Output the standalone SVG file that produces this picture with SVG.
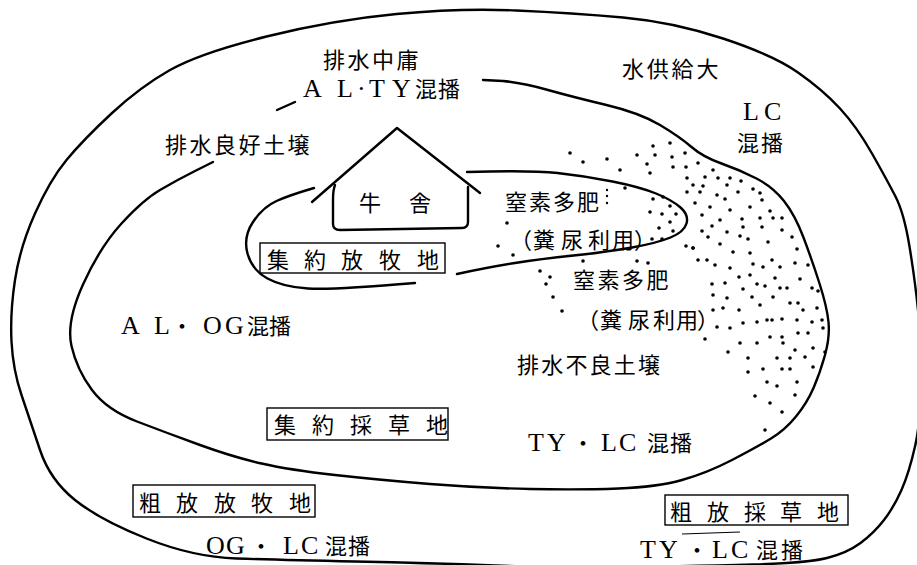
<svg xmlns="http://www.w3.org/2000/svg" width="917" height="565" viewBox="0 0 917 565">
<style>
.ln{fill:none;stroke:#000;stroke-width:2.4;stroke-linecap:round;stroke-linejoin:round}
.thin{fill:none;stroke:#000;stroke-width:1.1}
.box{fill:none;stroke:#000;stroke-width:1.4}
.jp{font-family:"Noto Sans CJK JP","Noto Sans CJK SC",sans-serif;font-size:22px;fill:#000}
.lat{font-family:"Liberation Serif","Noto Sans CJK JP",serif;font-size:26px;fill:#000}
.dots circle{fill:#000}
</style>
<rect width="917" height="565" fill="#fff"/>
<g id="connectors">
<path id="outer" class="ln" d="M 11.5,341.5 Q 10,313 15,280 Q 20,247 35,213.5 Q 50,180 66.5,160 Q 83,140 111.5,113.5 Q 140,87 170,70 Q 200,53 266.5,36.5 Q 333,20 396.5,14 Q 460,8 516.5,10.5 Q 573,13 623,17.5 Q 673,22 723,38.5 Q 773,55 798,72.5 Q 823,90 840,108.5 Q 857,127 872,153.5 Q 887,180 895.5,196.5 Q 904,213 909.5,246.5 Q 915,280 918,310 Q 921,340 921,380 Q 921,420 915,446.5 Q 909,473 901.5,490 Q 894,507 884,520 Q 874,533 860.5,543 Q 847,553 827,558 Q 807,563 753.5,564.5 Q 700,566 630,567 Q 560,568 495,565.5 Q 430,563 355,561.5 Q 280,560 236.5,558.5 Q 193,557 146.5,538.5 Q 100,520 75,500 Q 50,480 40,450 Q 30,420 21.5,395 Q 13,370 11.5,341.5 Z"/>
<path id="middle" class="ln" d="M 483,80 L 503,81 Q 523,83 548,90 Q 573,97 606.5,105 Q 640,113 660,125 Q 680,137 691.5,147 Q 703,157 721.5,163.5 Q 740,170 756.5,178.5 Q 773,187 784,201 Q 795,215 803.5,237.5 Q 812,260 819.5,283.5 Q 827,307 828.5,322 Q 830,337 825,355 Q 820,373 813.5,388 Q 807,403 796,416.5 Q 785,430 771,438.5 Q 757,447 732,460 Q 707,473 682,480 Q 657,487 618.5,488.5 Q 580,490 530,489 Q 480,488 430,484 Q 380,480 335,475 Q 290,470 261.5,463.5 Q 233,457 200,445 Q 167,433 137,421.5 Q 107,410 92,390 Q 77,370 71.5,346 Q 66,322 83,284.5 Q 100,247 121.5,223.5 Q 143,200 160,190 Q 177,180 195,171 L 213,162"/>
<path id="middle-dash" class="ln" d="M 277,110 L 295,102"/>
<path id="inner-a" class="ln" d="M 467,172 Q 530,170 557.5,173 Q 585,176 612.5,181.5 Q 640,187 656,193.5 Q 672,200 680.5,207.5 Q 689,215 686.5,223.5 Q 684,232 670.5,237.5 Q 657,243 632,247.5 Q 607,252 573.5,255.5 Q 540,259 515,263 Q 490,267 457,274"/>
<path id="inner-b" class="ln" d="M 415,283 Q 333,290 308,288.5 Q 283,287 267.5,278.5 Q 252,270 247.5,253.5 Q 243,237 253,222 Q 263,207 276.5,201 Q 290,195 314,188"/>
<path id="short-line" class="thin" d="M 682,534 L 740,532"/>
</g>
<g id="barn">
<path class="ln" d="M 312,202 L 397,128 L 480,193"/>
<path class="ln" d="M 335,185 Q 333,190 333,200 L 333,224 Q 333,230 340,230 L 462,228 Q 468,228 468,222 L 468,187"/>
<text class="jp" font-size="21" x="359" y="211">牛<tspan x="409">舎</tspan></text>
</g>
<g id="dots" class="dots">
<circle cx="685" cy="153" r="1.8"/><circle cx="698" cy="163" r="1.8"/><circle cx="713" cy="170" r="1.8"/><circle cx="687" cy="178" r="1.8"/><circle cx="705" cy="177" r="1.8"/><circle cx="718" cy="178" r="1.8"/><circle cx="730" cy="178" r="1.8"/><circle cx="741" cy="181" r="1.8"/><circle cx="693" cy="185" r="1.8"/><circle cx="727" cy="185" r="1.8"/>
<circle cx="687" cy="192" r="1.8"/><circle cx="700" cy="192" r="1.8"/><circle cx="717" cy="195" r="1.8"/><circle cx="738" cy="192" r="1.8"/><circle cx="753" cy="189" r="1.8"/><circle cx="695" cy="203" r="1.8"/><circle cx="710" cy="207" r="1.8"/><circle cx="725" cy="199" r="1.8"/><circle cx="762" cy="200" r="1.8"/><circle cx="750" cy="207" r="1.8"/><circle cx="730" cy="210" r="1.8"/>
<circle cx="702" cy="215" r="1.8"/><circle cx="720" cy="220" r="1.8"/><circle cx="742" cy="219" r="1.8"/><circle cx="760" cy="218" r="1.8"/><circle cx="773" cy="218" r="1.8"/><circle cx="782" cy="218" r="1.8"/><circle cx="770" cy="211" r="1.8"/><circle cx="712" cy="226" r="1.8"/><circle cx="743" cy="227" r="1.8"/><circle cx="762" cy="227" r="1.8"/>
<circle cx="702" cy="231" r="1.8"/><circle cx="727" cy="232" r="1.8"/><circle cx="708" cy="237" r="1.8"/><circle cx="740" cy="236" r="1.8"/><circle cx="748" cy="239" r="1.8"/><circle cx="768" cy="242" r="1.8"/><circle cx="782" cy="230" r="1.8"/><circle cx="792" cy="237" r="1.8"/><circle cx="720" cy="244" r="1.8"/><circle cx="693" cy="248" r="1.8"/>
<circle cx="698" cy="260" r="1.8"/><circle cx="707" cy="260" r="1.8"/><circle cx="715" cy="265" r="1.8"/><circle cx="733" cy="252" r="1.8"/><circle cx="750" cy="253" r="1.8"/><circle cx="763" cy="267" r="1.8"/><circle cx="780" cy="267" r="1.8"/><circle cx="797" cy="249" r="1.8"/><circle cx="795" cy="263" r="1.8"/><circle cx="808" cy="265" r="1.8"/><circle cx="730" cy="268" r="1.8"/><circle cx="753" cy="264" r="1.8"/><circle cx="772" cy="260" r="1.8"/>
<circle cx="712" cy="284" r="1.8"/><circle cx="725" cy="283" r="1.8"/><circle cx="739" cy="277" r="1.8"/><circle cx="750" cy="275" r="1.8"/><circle cx="757" cy="284" r="1.8"/><circle cx="765" cy="286" r="1.8"/><circle cx="780" cy="288" r="1.8"/><circle cx="787" cy="288" r="1.8"/><circle cx="775" cy="278" r="1.8"/><circle cx="800" cy="279" r="1.8"/><circle cx="812" cy="288" r="1.8"/><circle cx="818" cy="291" r="1.8"/>
<circle cx="713" cy="295" r="1.8"/><circle cx="727" cy="298" r="1.8"/><circle cx="743" cy="289" r="1.8"/><circle cx="752" cy="297" r="1.8"/><circle cx="760" cy="305" r="1.8"/><circle cx="773" cy="297" r="1.8"/><circle cx="790" cy="303" r="1.8"/><circle cx="798" cy="303" r="1.8"/><circle cx="803" cy="310" r="1.8"/><circle cx="817" cy="308" r="1.8"/><circle cx="713" cy="310" r="1.8"/><circle cx="723" cy="308" r="1.8"/><circle cx="739" cy="310" r="1.8"/>
<circle cx="757" cy="322" r="1.8"/><circle cx="767" cy="320" r="1.8"/><circle cx="782" cy="319" r="1.8"/><circle cx="797" cy="320" r="1.8"/><circle cx="812" cy="322" r="1.8"/><circle cx="822" cy="320" r="1.8"/><circle cx="717" cy="327" r="1.8"/><circle cx="730" cy="328" r="1.8"/><circle cx="743" cy="323" r="1.8"/><circle cx="772" cy="320" r="1.8"/>
<circle cx="705" cy="339" r="1.8"/><circle cx="740" cy="343" r="1.8"/><circle cx="757" cy="343" r="1.8"/><circle cx="770" cy="337" r="1.8"/><circle cx="782" cy="337" r="1.8"/><circle cx="783" cy="343" r="1.8"/><circle cx="798" cy="333" r="1.8"/><circle cx="808" cy="333" r="1.8"/><circle cx="795" cy="350" r="1.8"/><circle cx="813" cy="348" r="1.8"/><circle cx="823" cy="328" r="1.8"/><circle cx="825" cy="352" r="1.8"/><circle cx="728" cy="352" r="1.8"/>
<circle cx="748" cy="358" r="1.8"/><circle cx="777" cy="358" r="1.8"/><circle cx="790" cy="358" r="1.8"/><circle cx="805" cy="357" r="1.8"/><circle cx="763" cy="369" r="1.8"/><circle cx="782" cy="369" r="1.8"/><circle cx="790" cy="369" r="1.8"/><circle cx="813" cy="367" r="1.8"/><circle cx="748" cy="372" r="1.8"/>
<circle cx="767" cy="382" r="1.8"/><circle cx="777" cy="386" r="1.8"/><circle cx="797" cy="382" r="1.8"/><circle cx="755" cy="396" r="1.8"/><circle cx="795" cy="395" r="1.8"/><circle cx="770" cy="403" r="1.8"/><circle cx="782" cy="412" r="1.8"/><circle cx="765" cy="430" r="1.8"/>
<circle cx="570" cy="153" r="1.8"/><circle cx="583" cy="162" r="1.8"/><circle cx="607" cy="159" r="1.8"/><circle cx="620" cy="170" r="1.8"/><circle cx="637" cy="155" r="1.8"/><circle cx="653" cy="146" r="1.8"/><circle cx="655" cy="155" r="1.8"/><circle cx="670" cy="143" r="1.8"/><circle cx="672" cy="157" r="1.8"/><circle cx="647" cy="164" r="1.8"/><circle cx="650" cy="173" r="1.8"/><circle cx="673" cy="167" r="1.8"/><circle cx="686" cy="167" r="1.8"/><circle cx="703" cy="186" r="1.8"/><circle cx="760" cy="193" r="1.8"/>
<circle cx="653" cy="199" r="1.8"/><circle cx="670" cy="206" r="1.8"/><circle cx="650" cy="212" r="1.8"/><circle cx="662" cy="214" r="1.8"/><circle cx="676" cy="214" r="1.8"/><circle cx="670" cy="222" r="1.8"/><circle cx="659" cy="228" r="1.8"/><circle cx="673" cy="231" r="1.8"/><circle cx="652" cy="239" r="1.8"/><circle cx="662" cy="239" r="1.8"/><circle cx="686" cy="246" r="1.8"/><circle cx="693" cy="248" r="1.8"/><circle cx="663" cy="197" r="1.8"/><circle cx="625" cy="188" r="1.8"/>
<circle cx="607" cy="190" r="1.2"/><circle cx="607" cy="196" r="1.2"/><circle cx="607" cy="203" r="1.2"/>
<circle cx="507" cy="223" r="1.8"/><circle cx="498" cy="246" r="1.8"/><circle cx="513" cy="255" r="1.8"/><circle cx="540" cy="271" r="1.8"/><circle cx="550" cy="277" r="1.8"/><circle cx="546" cy="284" r="1.8"/><circle cx="553" cy="297" r="1.8"/><circle cx="562" cy="311" r="1.8"/><circle cx="583" cy="261" r="1.8"/><circle cx="637" cy="261" r="1.8"/><circle cx="648" cy="263" r="1.8"/>
</g>
<g id="labels">
<text id="t-haisui-chuyo" class="jp" font-size="21" letter-spacing="2.5" x="323" y="68">排水中庸</text>
<text id="t-al-ty" class="lat" y="97"><tspan x="303 337 357 369 392">AL·TY</tspan><tspan class="jp" font-size="22" x="415 438">混播</tspan></text>
<text id="t-mizu" class="jp" font-size="21" letter-spacing="2.8" x="622" y="77">水供給大</text>
<text id="t-lc" class="lat" x="743 764" y="120">LC</text>
<text id="t-lc-konpa" class="jp" letter-spacing="2" x="737" y="151">混播</text>
<text id="t-ryoko" class="jp" letter-spacing="2.5" x="165" y="153">排水良好土壌</text>
<text id="t-chisso1" class="jp" letter-spacing="2" x="505" y="210">窒素多肥</text>
<text id="t-funnyo1" class="jp" x="510 533 561 588 612 634" y="248">（糞尿利用）</text>
<text id="t-chisso2" class="jp" letter-spacing="2.5" x="573" y="288">窒素多肥</text>
<text id="t-funnyo2" class="jp" x="577 600 628 653 676 697" y="328">（糞尿利用）</text>
<text id="t-furyo" class="jp" letter-spacing="2.2" x="517" y="373">排水不良土壌</text>
<text id="t-al-og" class="lat" y="334"><tspan x="121 154">AL</tspan><tspan class="jp" x="171">・</tspan><tspan x="203 225">OG</tspan><tspan class="jp" font-size="23" x="247 269">混播</tspan></text>
<text id="t-ty-lc1" class="lat" y="451"><tspan x="528 547">TY</tspan><tspan class="jp" x="572">・</tspan><tspan x="601 619">LC</tspan><tspan class="jp" font-size="23" x="647 670">混播</tspan></text>
<text id="t-og-lc" class="lat" y="554"><tspan x="206 226">OG</tspan><tspan class="jp" x="250">・</tspan><tspan x="283 301">LC</tspan><tspan class="jp" font-size="23" x="325 348">混播</tspan></text>
<text id="t-ty-lc2" class="lat" y="558"><tspan x="640 659">TY</tspan><tspan class="jp" x="686">・</tspan><tspan x="712 731">LC</tspan><tspan class="jp" font-size="23" x="756 781">混播</tspan></text>
</g>
<g id="node-shuyaku-hoboku">
<rect class="box" x="260" y="243" width="185" height="30"/>
<text class="jp" x="267 304 341 379 417" y="268">集約放牧地</text>
</g>
<g id="node-shuyaku-saiso">
<rect class="box" x="267" y="408" width="181" height="32"/>
<text class="jp" x="274 312 350 388 426" y="433">集約採草地</text>
</g>
<g id="node-sohou-hoboku">
<rect class="box" x="133" y="485" width="182" height="32"/>
<text class="jp" x="139 176 214 251 289" y="511">粗放放牧地</text>
</g>
<g id="node-sohou-saiso">
<rect class="box" x="665" y="495" width="183" height="30"/>
<text class="jp" x="670 707 744 780 817" y="520">粗放採草地</text>
</g>
</svg>
